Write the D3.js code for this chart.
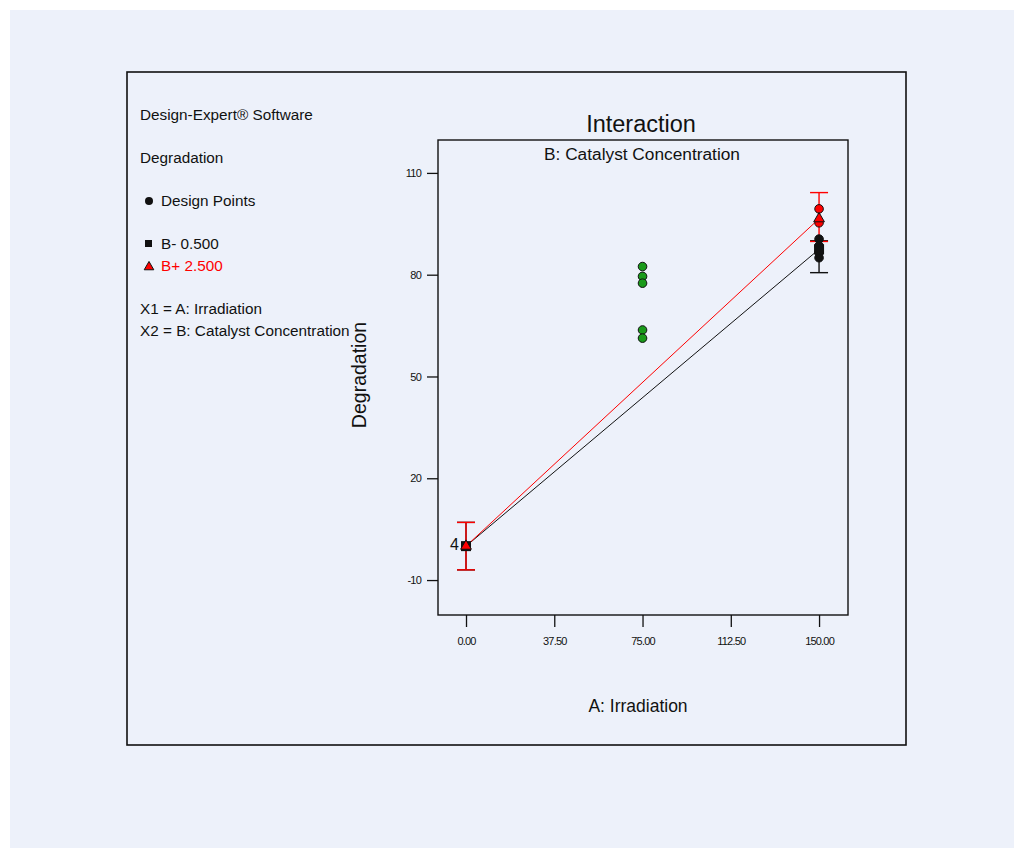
<!DOCTYPE html>
<html>
<head>
<meta charset="utf-8">
<script src="https://cdn.jsdelivr.net/npm/d3@7"></script>
<style>
  body { margin: 0; background: #ffffff; }
  text { font-family: "Liberation Sans", Arial, sans-serif; }
  .tick-lbl { font-family: "Liberation Sans Narrow", "Liberation Sans", Arial, sans-serif; font-size: 11px; letter-spacing: -0.8px; }
</style>
</head>
<body>
<div id="chart"></div>
<script>
// data
var xTicks = [0, 37.5, 75, 112.5, 150];
var yTicks = [-10, 20, 50, 80, 110];
var levels = ["B- 0.500", "B+ 2.500"];
var irradiation = [0, 150];
var meanLow = [0, 87.5];
var meanHigh = [0, 96.5];
var lsdLowBottom = [-7, 80.6];
var lsdLowTop = [7, 90];
var lsdHighBottom = [-7, 89.8];
var lsdHighTop = [7, 104.2];
var centerX = [75, 75, 75, 75, 75];
var centerY = [82.4, 79.5, 77.5, 63.7, 61.3];
var lowX = [0, 150, 150, 150, 150];
var lowY = [0, 90.5, 88.5, 86.5, 85];
var highX = [150, 150];
var highY = [99.4, 95.3];
var legendLines = ["Design-Expert\u00ae Software", "Degradation", "Design Points", "X1 = A: Irradiation", "X2 = B: Catalyst Concentration"];

var width = 1024, height = 849;

var svg = d3.select("#chart").append("svg")
  .attr("width", width)
  .attr("height", height);

svg.append("rect")
  .attr("x", 10).attr("y", 10)
  .attr("width", 1004).attr("height", 838)
  .style("fill", "#edf1fa");

svg.append("rect")
  .attr("x", 127).attr("y", 72)
  .attr("width", 779).attr("height", 673)
  .style("fill", "none")
  .style("stroke", "#111")
  .style("stroke-width", 1.6);

// legend block
var leg = svg.append("g").style("font-size", "15.3px").style("fill", "#111");
leg.append("text").attr("x", 140).attr("y", 120).text(legendLines[0]);
leg.append("text").attr("x", 140).attr("y", 163).text(legendLines[1]);
leg.append("circle").attr("cx", 149).attr("cy", 201).attr("r", 4).style("fill", "#111");
leg.append("text").attr("x", 161).attr("y", 206).text(legendLines[2]);
leg.append("rect").attr("x", 145).attr("y", 240).attr("width", 7).attr("height", 7).style("fill", "#111");
leg.append("text").attr("x", 161).attr("y", 249).text(levels[0]);
leg.append("path").attr("d", d3.symbol(d3.symbolTriangle, 40)()).attr("transform", "translate(149,267)")
  .style("fill", "red").style("stroke", "#111").style("stroke-width", 1);
leg.append("text").attr("x", 161).attr("y", 271).style("fill", "red").text(levels[1]);
leg.append("text").attr("x", 140).attr("y", 314).text(legendLines[3]);
leg.append("text").attr("x", 140).attr("y", 336).text(legendLines[4]);

// plot area
var x = d3.scaleLinear().domain([-11.9, 162.3]).range([438, 848]);
var y = d3.scaleLinear().domain([-20.3, 119.7]).range([615, 140]);

svg.append("rect")
  .attr("x", 438).attr("y", 140)
  .attr("width", 410).attr("height", 475)
  .style("fill", "none").style("stroke", "#111").style("stroke-width", 1.4);

var yAxis = svg.append("g")
  .attr("transform", "translate(438,0)")
  .call(d3.axisLeft(y).tickValues(yTicks).tickSize(11).tickPadding(6).tickFormat(function(d) { return String(d); }));
var xAxis = svg.append("g")
  .attr("transform", "translate(0,615)")
  .call(d3.axisBottom(x).tickValues(xTicks).tickSize(12).tickPadding(10).tickFormat(function(d) { return d.toFixed(2); }));
[xAxis, yAxis].forEach(function(a) {
  a.select(".domain").remove();
  a.selectAll(".tick line").style("stroke", "#111").style("stroke-width", 1.3);
  a.selectAll(".tick text").attr("class", "tick-lbl").style("fill", "#111");
});

svg.append("text").attr("x", 641).attr("y", 132).attr("text-anchor", "middle")
  .style("font-size", "23.5px").style("fill", "#111").text("Interaction");
svg.append("text").attr("x", 642).attr("y", 160).attr("text-anchor", "middle")
  .style("font-size", "17.3px").style("fill", "#111").text("B: Catalyst Concentration");
svg.append("text").attr("x", 638).attr("y", 712).attr("text-anchor", "middle")
  .style("font-size", "17.5px").style("fill", "#111").text("A: Irradiation");
svg.append("text").attr("transform", "translate(366,375) rotate(-90)").attr("text-anchor", "middle")
  .style("font-size", "19.5px").style("fill", "#111").text("Degradation");

// error bars
function errBars(bottom, top, col) {
  var g = svg.append("g").style("stroke", col).style("stroke-width", 1.4);
  irradiation.forEach(function(d, i) {
    g.append("line").attr("x1", x(d)).attr("x2", x(d)).attr("y1", y(bottom[i])).attr("y2", y(top[i]));
    g.append("line").attr("x1", x(d) - 9).attr("x2", x(d) + 9).attr("y1", y(bottom[i])).attr("y2", y(bottom[i]));
    g.append("line").attr("x1", x(d) - 9).attr("x2", x(d) + 9).attr("y1", y(top[i])).attr("y2", y(top[i]));
  });
}
errBars(lsdLowBottom, lsdLowTop, "#111");
errBars(lsdHighBottom, lsdHighTop, "red");

// interaction lines
var line = d3.line().x(function(d) { return x(d[0]); }).y(function(d) { return y(d[1]); });
svg.append("path").datum(d3.zip(irradiation, meanLow)).attr("d", line)
  .style("fill", "none").style("stroke", "#111").style("stroke-width", 1);
svg.append("path").datum(d3.zip(irradiation, meanHigh)).attr("d", line)
  .style("fill", "none").style("stroke", "red").style("stroke-width", 1);

// design points
function points(xs, ys, col) {
  svg.append("g").selectAll("circle").data(d3.zip(xs, ys)).enter().append("circle")
    .attr("cx", function(d) { return x(d[0]); })
    .attr("cy", function(d) { return y(d[1]); })
    .attr("r", 4.3)
    .style("fill", col).style("stroke", "#111").style("stroke-width", 1);
}
points(centerX, centerY, "#1a9a1a");
points(lowX, lowY, "#111");
points(highX, highY, "red");

// mean markers
svg.append("g").selectAll("rect").data(d3.zip(irradiation, meanLow)).enter().append("rect")
  .attr("x", function(d) { return x(d[0]) - 5; })
  .attr("y", function(d) { return y(d[1]) - 5; })
  .attr("width", 10).attr("height", 10)
  .style("fill", "#111");
svg.append("g").selectAll("path").data(d3.zip(irradiation, meanHigh)).enter().append("path")
  .attr("d", d3.symbol(d3.symbolTriangle, 50)())
  .attr("transform", function(d) { return "translate(" + x(d[0]) + "," + y(d[1]) + ")"; })
  .style("fill", "red").style("stroke", "#111").style("stroke-width", 1);

svg.append("text").attr("x", x(0) - 7).attr("y", y(0) + 4).attr("text-anchor", "end")
  .style("font-size", "16px").style("fill", "#111").text("4");
</script>
</body>
</html>
